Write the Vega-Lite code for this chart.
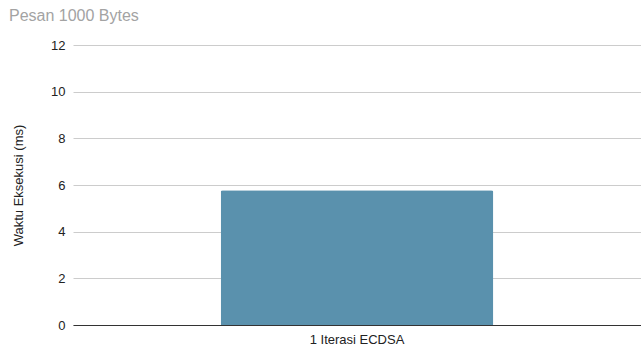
{
  "$schema": "https://vega.github.io/schema/vega-lite/v6.json",
  "autosize": {"type": "none"},
  "padding": {"left": 73, "top": 45, "right": 0, "bottom": 24},
  "width": 568,
  "height": 280,
  "background": "white",
  "title": {
    "text": "Pesan 1000 Bytes",
    "anchor": "start",
    "frame": "group",
    "dx": -64,
    "offset": 15,
    "font": "Liberation Sans",
    "fontSize": 16,
    "fontWeight": "normal",
    "color": "#a3a3a3"
  },
  "config": {
    "view": {"stroke": null},
    "font": "Liberation Sans"
  },
  "data": {
    "values": [
      {"kategori": "1 Iterasi ECDSA", "waktu": 5.78}
    ]
  },
  "mark": {
    "type": "bar",
    "color": "#5a91ad",
    "cornerRadiusTopLeft": 2,
    "cornerRadiusTopRight": 2
  },
  "encoding": {
    "x": {
      "field": "kategori",
      "type": "nominal",
      "scale": {"paddingInner": 0.52, "paddingOuter": 0.26},
      "axis": {
        "title": null,
        "labelAngle": 0,
        "labelFontSize": 13,
        "labelColor": "#222222",
        "labelPadding": 8,
        "ticks": false,
        "domainColor": "#333333",
        "domainWidth": 1
      }
    },
    "y": {
      "field": "waktu",
      "type": "quantitative",
      "scale": {"domain": [0, 12], "nice": false},
      "axis": {
        "title": "Waktu Eksekusi (ms)",
        "titleFontSize": 13,
        "titleFontWeight": "normal",
        "titleColor": "#222222",
        "titlePadding": 25,
        "values": [0, 2, 4, 6, 8, 10, 12],
        "labelFontSize": 13,
        "labelColor": "#222222",
        "labelPadding": 8,
        "ticks": false,
        "domain": false,
        "gridColor": "#cccccc",
        "gridWidth": 1
      }
    }
  }
}
